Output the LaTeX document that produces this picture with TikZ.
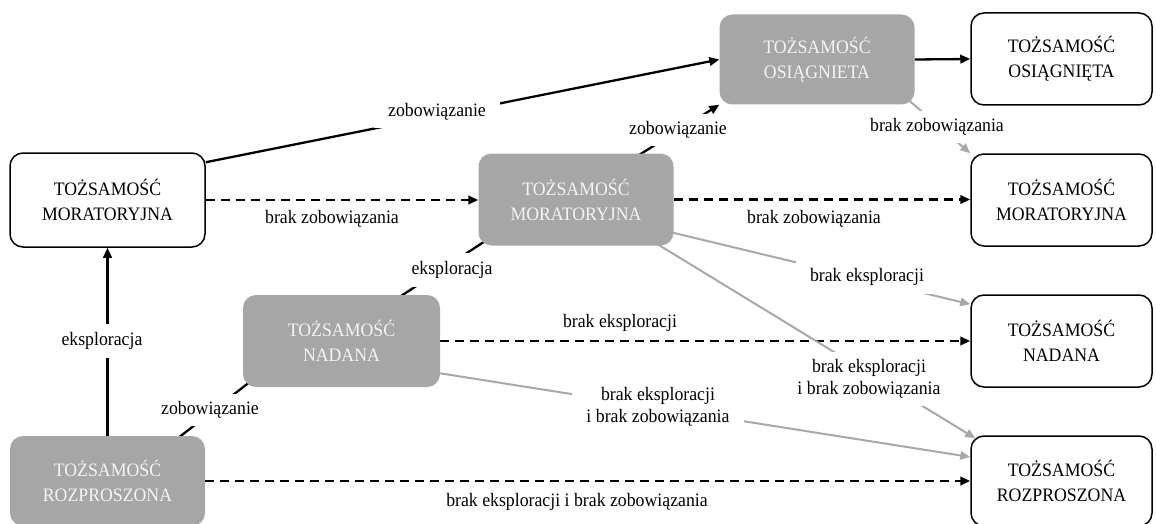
\documentclass[tikz,border=0pt]{standalone}
\usepackage{fontspec}
\setmainfont{Liberation Serif}[FakeStretch=0.935]
\usetikzlibrary{arrows.meta,calc,backgrounds}

\definecolor{boxgray}{HTML}{A6A6A6}
\definecolor{boxtext}{HTML}{F4F4F4}
\definecolor{linegray}{HTML}{A8A8A8}

\tikzset{
  box/.style={rectangle, rounded corners=13pt, align=center, inner sep=0pt,
    font=\fontsize{19}{25}\selectfont},
  wbox/.style={box, draw=black, line width=1.5pt, fill=white, text=black,
    minimum width=181pt, minimum height=92pt},
  gbox/.style={box, fill=boxgray, text=boxtext, draw=none,
    minimum width=195pt, minimum height=92pt},
  tip/.style={-{Triangle[length=10pt,width=8.5pt]}},
  flow/.style={line width=2.3pt, draw=black},
  skip/.style={flow, tip, dash pattern=on 9pt off 6pt},
  faint/.style={line width=2pt, draw=linegray, tip},
  lbl/.style={fill=white, inner xsep=14pt, inner ysep=8pt, align=center,
    font=\fontsize{19}{22}\selectfont},
  note/.style={inner sep=0pt, align=center, font=\fontsize{19}{22}\selectfont}
}

\begin{document}
\begin{tikzpicture}[x=1pt, y=-1pt]
\useasboundingbox (0,0) rectangle (1156,524);

% left column
\node[wbox, minimum width=195pt, minimum height=94pt] (lm) at (107.5,200) {TOŻSAMOŚĆ\\MORATORYJNA};
\node[gbox, minimum height=90pt] (gr) at (107.5,481) {TOŻSAMOŚĆ\\ROZPROSZONA};

% middle column
\node[gbox, minimum width=197pt] (gn) at (341.5,341) {TOŻSAMOŚĆ\\NADANA};
\node[gbox] (gm) at (576,199.5) {TOŻSAMOŚĆ\\MORATORYJNA};
\node[gbox, minimum height=90pt] (go) at (817,59.5) {TOŻSAMOŚĆ\\OSIĄGNIETA};

% right column
\node[wbox] (ra) at (1061.5,59) {TOŻSAMOŚĆ\\OSIĄGNIĘTA};
\node[wbox] (rm) at (1061.5,200) {TOŻSAMOŚĆ\\MORATORYJNA};
\node[wbox] (rn) at (1061.5,341) {TOŻSAMOŚĆ\\NADANA};
\node[wbox, minimum height=90pt] (rr) at (1061.5,481) {TOŻSAMOŚĆ\\ROZPROSZONA};

% transitions
\begin{scope}[on background layer]
  % commitment
  \draw[flow, tip] ($(lm.north east)+(0,10)$) -- (go.west);
  \draw[flow] ($(gr.north east)+(-37,10)$) -- ($(gn.south west)+(13,-10)$);
  \draw[flow, tip] ($(gm.north)+(53,8)$) -- (go.south west);
  \draw[flow, tip] (go.east) -- (ra.west);
  % exploration
  \draw[flow, tip] (gr.north) -- (lm.south);
  \draw[flow] ($(gn.north east)+(-45,5)$) -- ($(gm.south west)+(12,-8)$);
  % no commitment / no exploration
  \draw[skip] (lm.east) -- (lm.east -| gm.west);
  \draw[skip] (gm.east) -- (gm.east -| rm.west);
  \draw[skip] (gn.east) -- (gn.east -| rn.west);
  \draw[skip] (gr.east) -- (gr.east -| rr.west);
  \draw[faint] ($(go.south east)+(-10,-8)$) -- (rm.north west);
  \draw[faint] ($(gm.south east)+(-5,-14)$) -- ($(rn.north west)+(0,10)$);
  \draw[faint] ($(gm.south east)+(-17,-2)$) -- ($(rr.north west)+(5,3)$);
  \draw[faint] ($(gn.east)+(-2,32)$) -- ($(rr.west)+(0,-24)$);
\end{scope}

% labels
\node[lbl] (l1) at (437,112) {zobowiązanie};
\node[note] (l2) at (332,219) {brak zobowiązania};
\node[lbl] (l3) at (102,341) {eksploracja};
\node[lbl] (l4) at (210,410) {zobowiązanie};
\node[lbl] (l5) at (452,270) {eksploracja};
\node[lbl] (l6) at (678,130) {zobowiązanie};
\node[lbl] (l7) at (937,127) {brak zobowiązania};
\node[note] (l8) at (814,219) {brak zobowiązania};
\node[lbl] (l9) at (867,277) {brak eksploracji};
\node[note] (l10) at (620,323) {brak eksploracji};
\node[lbl] (l11) at (869,379) {brak eksploracji\\i brak zobowiązania};
\node[lbl] (l12) at (658,407) {brak eksploracji\\i brak zobowiązania};
\node[note] (l13) at (577,502) {brak eksploracji i brak zobowiązania};
\end{tikzpicture}
\end{document}
